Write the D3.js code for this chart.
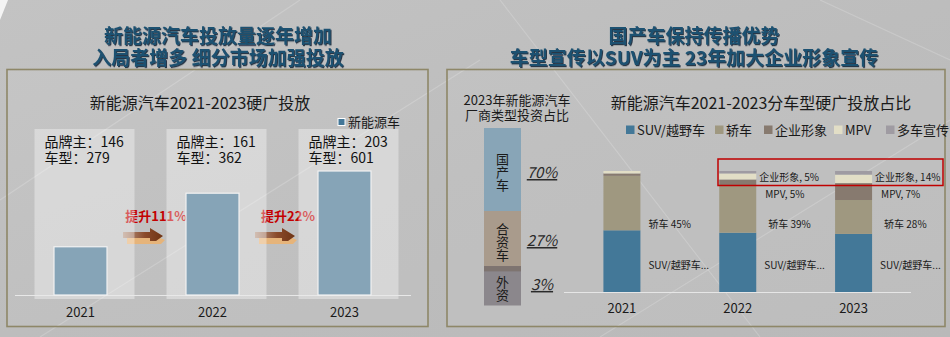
<!DOCTYPE html>
<html><head><meta charset="utf-8">
<script src="https://cdn.jsdelivr.net/npm/d3@7"></script>
<style>
html,body{margin:0;padding:0;background:#bdbdbd;}
svg{display:block;font-family:"Noto Sans CJK SC","Noto Sans",sans-serif;}
</style></head>
<body>
<svg id="c" width="950" height="337"></svg>
<script>
// ---------- data ----------
const headlineLeft = ["新能源汽车投放量逐年增加", "入局者增多 细分市场加强投放"];
const headlineRight = ["国产车保持传播优势", "车型宣传以SUV为主 23年加大企业形象宣传"];

const years = ["2021", "2022", "2023"];
// hard-ad placements index (2021 = 100)
const nevIndex = [100, 211, 257];
const brandCount = [146, 161, 203];
const modelCount = [279, 362, 601];
const growthLabels = ["提升111%", "提升22%"];

const ownerTypes = ["国产车", "合资车", "外资"];
const ownerShares = [70, 27, 3];

const segKeys = ["SUV/越野车", "轿车", "企业形象", "MPV", "多车宣传"];
const suvShare   = [51, 49, 48];
const sedanShare = [45, 39, 28];
const corpShare  = [2, 5, 14];
const mpvShare   = [2, 5, 7];
const multiShare = [0, 2, 3];

// ---------- drawing ----------
const svg = d3.select("#c");
const defs = svg.append("defs");

// background
const bg = defs.append("linearGradient").attr("id","bg").attr("x1",0).attr("y1",0).attr("x2",1).attr("y2",1);
bg.append("stop").attr("offset",0).attr("stop-color","#c3c3c3");
bg.append("stop").attr("offset",0.5).attr("stop-color","#bdbdbd");
bg.append("stop").attr("offset",1).attr("stop-color","#b9b9b9");
svg.append("rect").attr("width",950).attr("height",337).attr("fill","url(#bg)");
const streaks = [[0,200,300,0],[40,337,480,60],[500,0,760,337],[600,337,950,120],[820,0,950,60]];
svg.selectAll("line.streak").data(streaks).join("line")
  .attr("x1",d=>d[0]).attr("y1",d=>d[1]).attr("x2",d=>d[2]).attr("y2",d=>d[3])
  .attr("stroke","#fff").attr("stroke-opacity",0.18).attr("stroke-width",1.2);
svg.append("path").attr("d","M0,0 L8,0 L0,20 Z").attr("fill","#f4f4f4");

// headlines
const shadow = defs.append("filter").attr("id","ts").attr("x","-5%").attr("y","-20%").attr("width","110%").attr("height","140%");
shadow.append("feDropShadow").attr("dx",1).attr("dy",1.2).attr("stdDeviation",0.6).attr("flood-color","#0b2233").attr("flood-opacity",0.85);
function headline(lines, cx){
  svg.append("g").selectAll("text").data(lines).join("text")
    .attr("x",cx).attr("y",(d,i)=>43+i*22).attr("text-anchor","middle")
    .attr("font-size",19).attr("font-weight",700).attr("fill","#1e5171")
    .attr("filter","url(#ts)").text(d=>d);
}
headline(headlineLeft, 218);
headline(headlineRight, 694);

// panels
svg.append("rect").attr("x",7).attr("y",69.5).attr("width",421).attr("height",257)
  .attr("fill","#fff").attr("fill-opacity",0.06).attr("stroke","#8e8768").attr("stroke-width",1.6);
svg.append("rect").attr("x",447).attr("y",69.5).attr("width",498).attr("height",257)
  .attr("fill","#fff").attr("fill-opacity",0.06).attr("stroke","#8e8768").attr("stroke-width",1.6);

// two-line text in a single text element
function twoLine(sel, x, y, lines, size, gap, anchor){
  const t = sel.append("text").attr("x",x).attr("y",y).attr("font-size",size)
    .attr("fill","#111").attr("text-anchor",anchor||"start");
  lines.forEach((l,i)=>t.append("tspan").attr("x",x).attr("dy",i===0?0:gap).text(l));
  return t;
}

// ---------- left chart ----------
const L = svg.append("g");
L.append("text").attr("x",200).attr("y",109).attr("text-anchor","middle")
  .attr("font-size",16).attr("fill","#1a1a1a").text("新能源汽车2021-2023硬广投放");
L.append("rect").attr("x",338).attr("y",118.5).attr("width",7).attr("height",7)
  .attr("fill","#437798").attr("stroke","#fff").attr("stroke-width",1);
L.append("text").attr("x",348).attr("y",127).attr("font-size",13).attr("fill","#1a1a1a").text("新能源车");

const xL = d3.scaleBand().domain(years).range([14.5, 410.5]).padding(0);
const yL = d3.scaleLinear().domain([0, 257]).range([295, 171]);
const cxL = y => xL(y) + xL.bandwidth()/2;
const barW = 53;

// growth arrows & labels (drawn under the translucent boxes)
const arrowGrad = defs.append("linearGradient").attr("id","arr").attr("x1",0).attr("x2",1);
arrowGrad.append("stop").attr("offset",0).attr("stop-color","#b89a88");
arrowGrad.append("stop").attr("offset",0.55).attr("stop-color","#8a4a2a");
arrowGrad.append("stop").attr("offset",1).attr("stop-color","#6e3414");
const gaps = d3.range(years.length-1).map(i=>({i, x0: cxL(years[i]) + barW/2 + 16, label: growthLabels[i]}));
const ag = L.append("g").selectAll("g").data(gaps).join("g").attr("transform",d=>`translate(${d.x0},235)`);
ag.append("path").attr("d","M4,2 L28,2 L28,-1 L42,5 L38,9 L4,9 Z").attr("fill","#e6b47a");
ag.append("path").attr("d","M0,-3 L27,-3 L27,-7 L40,1 L33,6 L27,6 L27,3 L0,3 Z").attr("fill","url(#arr)");
L.append("g").selectAll("text").data(gaps).join("text")
  .attr("x",d=>d.x0+33).attr("y",221).attr("text-anchor","middle")
  .attr("font-size",13).attr("font-weight",700).attr("fill","#c40000").text(d=>d.label);

// translucent boxes
L.append("g").selectAll("rect").data(years).join("rect")
  .attr("x",d=>cxL(d)-46).attr("y",129).attr("width",100).attr("height",170)
  .attr("fill","#fff").attr("fill-opacity",0.36);

// axis line
L.append("line").attr("x1",15).attr("x2",411).attr("y1",295.5).attr("y2",295.5)
  .attr("stroke","#e8e8e8").attr("stroke-width",1.2);

// bars
L.append("g").selectAll("rect").data(years).join("rect")
  .attr("x",d=>cxL(d)-barW/2).attr("width",barW)
  .attr("y",(d,i)=>yL(nevIndex[i])).attr("height",(d,i)=>yL(0)-yL(nevIndex[i]))
  .attr("fill","#86a4b7").attr("stroke","#f2f2f2").attr("stroke-width",1.2);

// counts
years.forEach((y,i)=>{
  twoLine(L, cxL(y)-36, 147, ["品牌主：" + brandCount[i], "车型：" + modelCount[i]], 14, 16);
});

// x axis labels
L.append("g").selectAll("text").data(years).join("text")
  .attr("x",d=>cxL(d)).attr("y",317).attr("text-anchor","middle")
  .attr("font-size",13).attr("fill","#1a1a1a").text(d=>d);

// ---------- right: owner type stacked block ----------
const R = svg.append("g");
twoLine(R, 517, 105, ["2023年新能源汽车", "厂商类型投资占比"], 13, 15, "middle").attr("fill","#1a1a1a");

const ownerColors = ["#88a5b7", "#a99b8c", "#8b878c"];
const blockH = d3.scaleLinear().domain([0,100]).range([0,65]); // share part of block height
const labelRoom = 37.5; // space reserved for the vertical label
let acc = 128;
const ownerBlocks = ownerTypes.map((t,i)=>{ const h = blockH(ownerShares[i]) + labelRoom; const b = {t, v: ownerShares[i], y: acc, h}; acc += h; return b; });
const totalH = acc - 128;
R.append("g").selectAll("rect").data(ownerBlocks).join("rect")
  .attr("x",484).attr("width",37).attr("y",d=>d.y).attr("height",d=>d.h).attr("fill",(d,i)=>ownerColors[i]);
// true-proportion band for the smallest share
const last = ownerBlocks[ownerBlocks.length-1];
const bandH = totalH*last.v/100;
R.append("rect").attr("x",484).attr("width",37).attr("y",last.y).attr("height",bandH).attr("fill","#7e7470");
// vertical labels (single vertical text each)
ownerBlocks.forEach((b,i)=>{
  const yMid = b.y + b.h/2 + (i===1 ? 4 : i===2 ? bandH/2 : 3);
  R.append("text").attr("x",502.5).attr("y",yMid)
    .attr("writing-mode","vertical-rl").attr("text-anchor","middle")
    .attr("font-size",13).attr("fill","#1a1a1a").text(b.t);
  R.append("text").attr("x",542).attr("y",yMid + 5.5 - (i===2?4:i===1?2:0)).attr("text-anchor","middle")
    .attr("font-size",15).attr("font-style","italic").attr("text-decoration","underline")
    .attr("fill","#2a2a2a").text(b.v + "%");
});

// ---------- right: segment stacked bars ----------
R.append("text").attr("x",761).attr("y",109).attr("text-anchor","middle")
  .attr("font-size",16).attr("fill","#1a1a1a").text("新能源汽车2021-2023分车型硬广投放占比");

const segColors = ["#437898", "#9f9880", "#877a6f", "#e2dec6", "#9f9ba2"];
const legX = [626, 715, 764, 834, 886];
const leg = R.append("g").selectAll("g").data(segKeys).join("g").attr("transform",(d,i)=>`translate(${legX[i]},0)`);
leg.append("rect").attr("y",125.5).attr("width",8.5).attr("height",8.5).attr("fill",(d,i)=>segColors[i]);
leg.append("text").attr("x",11).attr("y",134.5).attr("font-size",13).attr("fill","#1a1a1a").text(d=>d);

const rows = years.map((y,i)=>({year:y, "SUV/越野车":suvShare[i], "轿车":sedanShare[i], "企业形象":corpShare[i], "MPV":mpvShare[i], "多车宣传":multiShare[i]}));
const stack = d3.stack().keys(segKeys)(rows);
const xR = d3.scaleBand().domain(years).range([564, 911.5]).padding(0);
const cxR = y => xR(y) + xR.bandwidth()/2;
const yR = d3.scaleLinear().domain([0,100]).range([292, 171]);
const bw = 37;

R.append("line").attr("x1",564).attr("x2",911).attr("y1",292.5).attr("y2",292.5)
  .attr("stroke","#e6e6e6").attr("stroke-width",1.2);

R.append("g").selectAll("g").data(stack).join("g").attr("fill",(d,i)=>segColors[i])
  .selectAll("rect").data(d=>d).join("rect")
  .attr("x",d=>cxR(d.data.year)-bw/2).attr("width",bw)
  .attr("y",d=>yR(d[1])).attr("height",d=>yR(d[0])-yR(d[1]));

// data labels
const labelSpecs = [];
years.forEach((y,i)=>{
  const xr = cxR(y) + bw/2;
  labelSpecs.push({x:xr+8, y:yR(22), t:"SUV/越野车..."});
  labelSpecs.push({x:xr+(i===0?8:12), y:yR(56), t:"轿车 " + sedanShare[i] + "%"});
  if (i>0){
    labelSpecs.push({x:xr+9, y:yR(81), t:"MPV, " + mpvShare[i] + "%"});
    labelSpecs.push({x:xr+3, y:yR(95), t:"企业形象, " + corpShare[i] + "%"});
  }
});
R.append("g").selectAll("text").data(labelSpecs).join("text")
  .attr("x",d=>d.x).attr("y",d=>d.y+4).attr("font-size",10).attr("fill","#1a1a1a").text(d=>d.t);

R.append("g").selectAll("text").data(years).join("text")
  .attr("x",d=>cxR(d)).attr("y",313).attr("text-anchor","middle")
  .attr("font-size",13).attr("fill","#1a1a1a").text(d=>d);

// highlight box
R.append("rect").attr("x",718).attr("y",159).attr("width",225).attr("height",26.5)
  .attr("fill","none").attr("stroke","#c00000").attr("stroke-width",1.5);
</script>
</body></html>
